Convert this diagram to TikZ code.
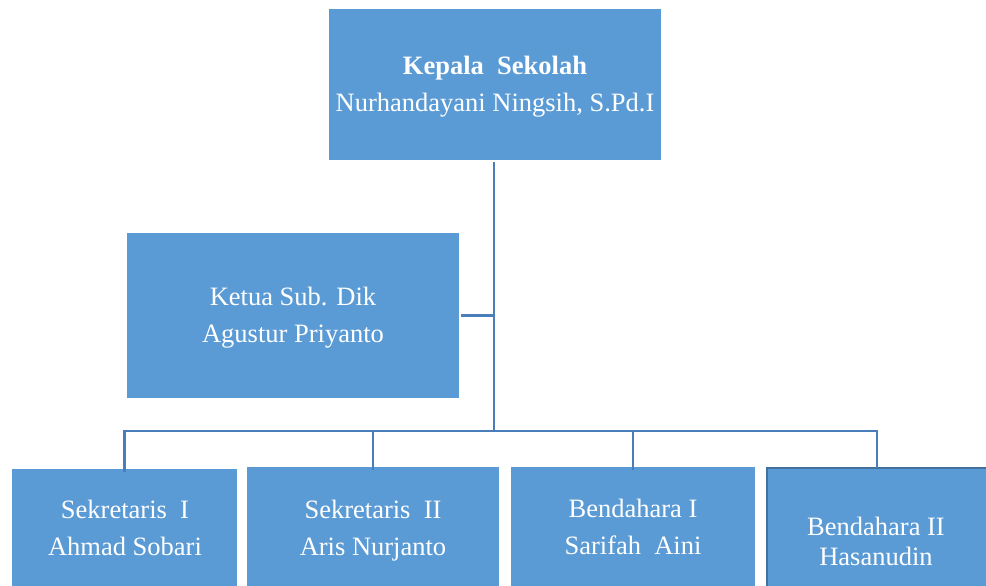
\documentclass[tikz,border=0pt]{standalone}
\usepackage{fontspec}
\setmainfont{Liberation Serif}
\definecolor{boxfill}{HTML}{5B9BD5}
\definecolor{linec}{HTML}{4A7EBB}
\definecolor{boxedge}{HTML}{41719C}
\begin{document}
\begin{tikzpicture}[x=1pt,y=-1pt,
  orgbox/.style={fill=boxfill,draw=none,inner sep=0pt,anchor=center},
  orgtext/.style={text=white,align=center,font=\fontsize{26.5}{37}\selectfont,inner sep=0pt},
  conn/.style={draw=linec,line width=2.2pt}]
\useasboundingbox (0,0) rectangle (986,586);
\clip (0,0) rectangle (986,586);
% boxes
\node[orgbox,minimum width=332pt,minimum height=151pt] (top) at (495,84.5) {};
\node[orgtext] (toptext) at (495,87) {\textbf{Kepala\ \ Sekolah}\\Nurhandayani Ningsih, S.Pd.I};
\node[orgbox,minimum width=332pt,minimum height=165pt] (ketua) at (293,315.5) {};
\node[orgtext] (ketuatext) at (293,318) {Ketua Sub. Dik\\Agustur Priyanto};
\node[orgbox,minimum width=225pt,minimum height=140pt] (b1) at (124.5,539) {};
\node[orgbox,minimum width=252pt,minimum height=140pt] (b2) at (373,537) {};
\node[orgbox,minimum width=244pt,minimum height=140pt] (b3) at (633,537) {};
\node[orgbox,draw=boxedge,line width=2pt,minimum width=220pt,minimum height=140pt] (b4) at (877,538) {};
\node[orgtext] (b1text) at (125,528) {Sekretaris\ \ I\\Ahmad Sobari};
\node[orgtext] (b2text) at (373,530.5) {Sekretaris\ \ II\\Aris Nurjanto};
\node[orgtext] (b3text) at (633,527) {Bendahara I\\Sarifah\ \ Aini};
\node[orgtext,font=\fontsize{26.5}{30}\selectfont] (b4text) at (876,541) {Bendahara II\\Hasanudin};
% connectors
\coordinate (bus) at (494,431);
\draw[conn] ([yshift=-2pt]top.south -| bus) -- (bus);
\draw[conn] ([xshift=2pt]ketua.east) -- (ketua.east -| bus);
\draw[conn] ([yshift=-3pt]b1.north) -- (b1.north |- bus) -- (b4.north |- bus) -- ([yshift=-1pt]b4.north);
\draw[conn] ([yshift=-3pt]b2.north) -- (b2.north |- bus);
\draw[conn] ([yshift=-3pt]b3.north) -- (b3.north |- bus);
\end{tikzpicture}
\end{document}
